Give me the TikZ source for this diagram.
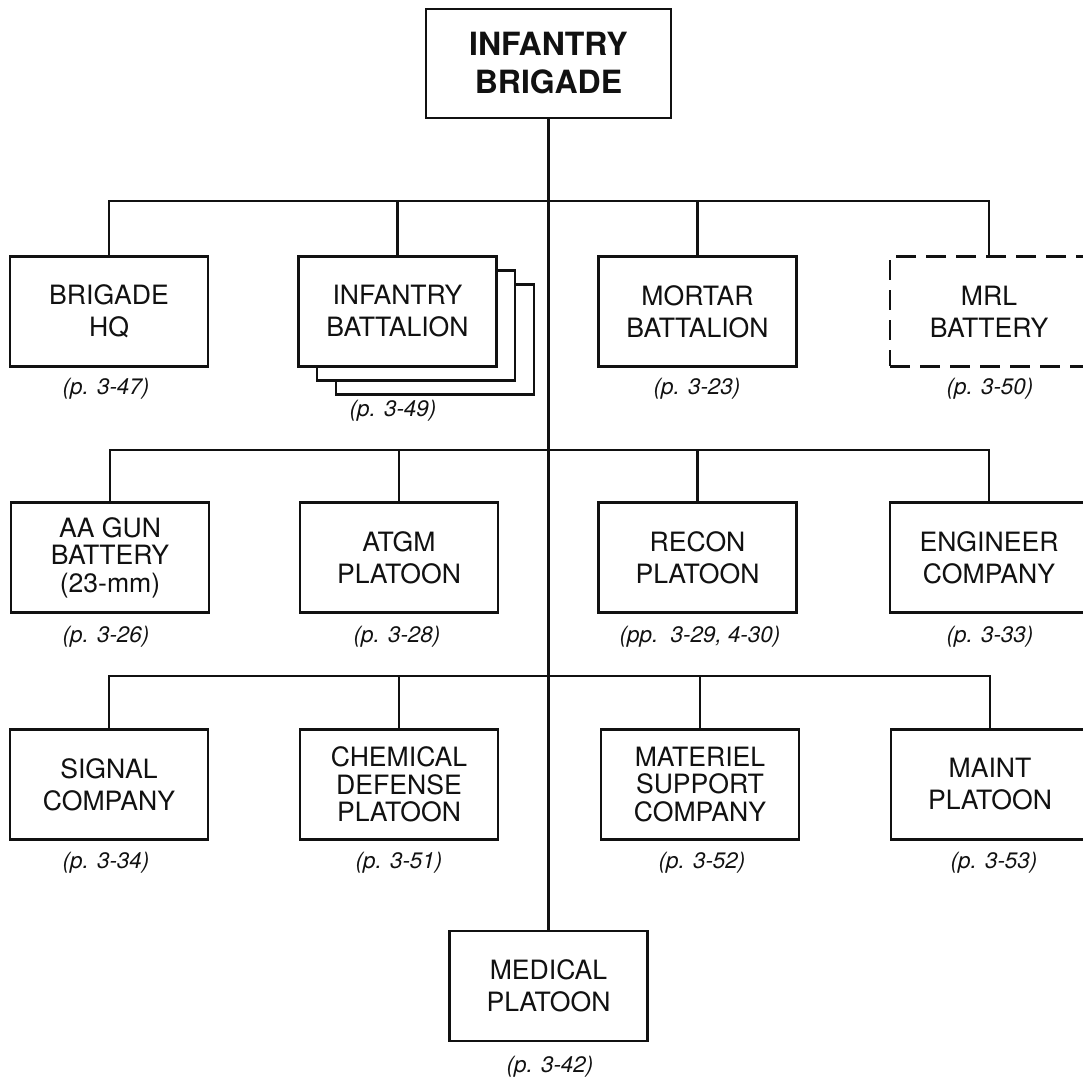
\documentclass[tikz,border=0pt]{standalone}
\usepackage{fontspec}
\setmainfont{TeX Gyre Heros}
\usetikzlibrary{positioning}
\definecolor{cink}{HTML}{111111}
\definecolor{cpaper}{HTML}{FFFFFF}

\begin{document}
\begin{tikzpicture}[x=0.5pt,y=-0.5pt,
  box/.style={draw=cink, line width=1.4pt, fill=cpaper, text=cink, align=center, inner sep=1pt, minimum width=99pt, minimum height=55pt, font=\fontsize{13.3}{16}\selectfont},
  boxthree/.style={box, font=\fontsize{13.3}{13.8}\selectfont},
  lbl/.style={font=\fontsize{11.2}{13}\selectfont\itshape, text=cink, inner sep=0},
  link/.style={line width=1.1pt, draw=cink}]

\useasboundingbox[fill=cpaper] (0,0) rectangle (1083,1080);

\node[box, minimum width=122.5pt, minimum height=54.5pt, font=\fontsize{16}{19}\selectfont\bfseries] (bde) at (548.5,63.5) {INFANTRY\\BRIGADE};
\node[box] (hq) at (109,311.5) {BRIGADE\\HQ};
\node[box] (inf3) at (435,339.5) {};
\node[box] (inf2) at (416,325.5) {};
\node[box] (inf) at (397.5,311.5) {INFANTRY\\BATTALION};
\node[box] (mort) at (697.5,311.5) {MORTAR\\BATTALION};
\node[box, dashed, dash pattern=on 10pt off 5pt] (mrl) at (989,311.5) {MRL\\BATTERY};
\node[boxthree] (aa) at (110,557.5) {AA GUN\\BATTERY\\(23-mm)};
\node[box] (atgm) at (399,557.5) {ATGM\\PLATOON};
\node[box] (recon) at (697.5,557.5) {RECON\\PLATOON};
\node[box] (eng) at (989,557.5) {ENGINEER\\COMPANY};
\node[box] (sig) at (109,784.5) {SIGNAL\\COMPANY};
\node[boxthree] (chem) at (399,784.5) {CHEMICAL\\DEFENSE\\PLATOON};
\node[boxthree] (mat) at (700,784.5) {MATERIEL\\SUPPORT\\COMPANY};
\node[box] (maint) at (990,784.5) {MAINT\\PLATOON};
\node[box] (med) at (548.5,986) {MEDICAL\\PLATOON};
\coordinate (bus1) at (0,201);
\coordinate (bus2) at (0,450);
\coordinate (bus3) at (0,676);

\draw[link] (bde.south) -- (med.north);
\draw[link] (hq.north) |- (bus1 -| mrl.north) -- (mrl.north);
\draw[link] (inf.north) -- (inf.north |- bus1);
\draw[link] (mort.north) -- (mort.north |- bus1);
\draw[link] (aa.north) |- (bus2 -| eng.north) -- (eng.north);
\draw[link] (atgm.north) -- (atgm.north |- bus2);
\draw[link] (recon.north) -- (recon.north |- bus2);
\draw[link] (sig.north) |- (bus3 -| maint.north) -- (maint.north);
\draw[link] (chem.north) -- (chem.north |- bus3);
\draw[link] (mat.north) -- (mat.north |- bus3);

\node[lbl] (hqp) at (106,389) {(p. 3-47)};
\node[lbl] (infp) at (393,411) {(p. 3-49)};
\node[lbl] (mortp) at (697,389) {(p. 3-23)};
\node[lbl] (mrlp) at (990,389) {(p. 3-50)};
\node[lbl] (aap) at (106,637) {(p. 3-26)};
\node[lbl] (atgmp) at (397,637) {(p. 3-28)};
\node[lbl] (reconp) at (700,637) {(pp.\ \ 3-29, 4-30)};
\node[lbl] (engp) at (990,637) {(p. 3-33)};
\node[lbl] (sigp) at (106,863) {(p. 3-34)};
\node[lbl] (chemp) at (399,863) {(p. 3-51)};
\node[lbl] (matp) at (702,863) {(p. 3-52)};
\node[lbl] (maintp) at (994,863) {(p. 3-53)};
\node[lbl] (medp) at (550,1067) {(p. 3-42)};
\end{tikzpicture}
\end{document}
